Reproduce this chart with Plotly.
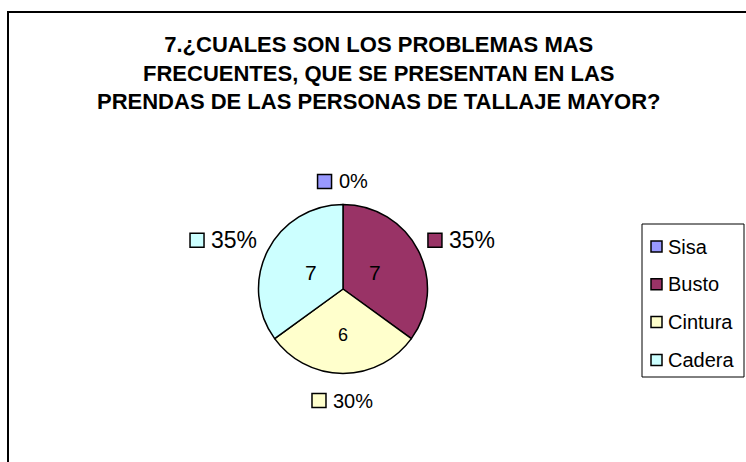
import math
import plotly.graph_objects as go

# --- Data ---
TITLE_LINES = [
    "7.¿CUALES SON LOS PROBLEMAS MAS",
    "FRECUENTES, QUE SE PRESENTAN EN LAS",
    "PRENDAS DE LAS PERSONAS DE TALLAJE MAYOR?",
]
categories = ["Sisa", "Busto", "Cintura", "Cadera"]
counts = [0, 7, 6, 7]

# --- Style ---
W, H = 746, 462
CX, CY, R = 343, 289, 84.5          # pie centre / radius in pixels
FONT = "Liberation Sans, Arial, sans-serif"
SLICE_COLORS = ["#9999FF", "#993366", "#FFFFCC", "#CCFFFF"]
INNER_SIZES = [18, 21, 18, 21]
INNER_RADIUS = [0.5, 0.42, 0.55, 0.42]
OUTER_SIZES = [20, 23, 20, 23]
CHAR_W = {"%": 0.889}               # rough Arial widths, digits default 0.556
SQ = 14
GAP_OUT = 15


def px(x):
    return x / W


def py(y):
    return 1 - y / H


def text_width(s, size):
    return sum(CHAR_W.get(ch, 0.556) for ch in s) * size


fig = go.Figure()

fig.add_trace(go.Pie(
    labels=categories, values=counts,
    sort=False, direction="clockwise", rotation=0,
    marker=dict(colors=SLICE_COLORS, line=dict(color="black", width=1.5)),
    textinfo="none", hoverinfo="label+value+percent", showlegend=False,
    domain=dict(x=[px(CX - R), px(CX + R)], y=[py(CY + R), py(CY - R)]),
))

shapes, annotations = [], []
total = sum(counts)
cum = 0
for i, (cat, c) in enumerate(zip(categories, counts)):
    mid = (cum + c / 2) / total * 2 * math.pi
    cum += c
    ux, uy = math.sin(mid), -math.cos(mid)

    # value inside the slice
    if c > 0:
        rr = INNER_RADIUS[i] * R
        annotations.append(dict(
            x=px(CX + rr * ux), y=py(CY + rr * uy), xref="paper", yref="paper",
            text=str(c), showarrow=False, xanchor="center", yanchor="middle",
            font=dict(family=FONT, size=INNER_SIZES[i], color="black")))

    # percentage label outside, with colour key
    label = f"{round(100 * c / total)}%"
    w = SQ + 8 + text_width(label, OUTER_SIZES[i])
    h = 16
    gx = CX + (R + GAP_OUT) * ux + w / 2 * ux
    gy = CY + (R + GAP_OUT) * uy + h / 2 * uy
    if uy > 0.9:
        gy += 4
    x0 = gx - w / 2
    shapes.append(dict(type="rect", xref="paper", yref="paper",
                       x0=px(x0), x1=px(x0 + SQ), y0=py(gy + SQ / 2), y1=py(gy - SQ / 2),
                       fillcolor=SLICE_COLORS[i], line=dict(color="black", width=1.5)))
    annotations.append(dict(
        x=px(x0 + SQ + 5), y=py(gy), xref="paper", yref="paper",
        text=label, showarrow=False, xanchor="left", yanchor="middle",
        font=dict(family=FONT, size=OUTER_SIZES[i], color="black")))

# legend box (drawn by hand to get Excel's spacing)
LEG_X0, LEG_X1, LEG_Y0, LEG_Y1 = 642, 744, 224, 377
shapes.append(dict(type="rect", xref="paper", yref="paper",
                   x0=px(LEG_X0), x1=px(LEG_X1), y0=py(LEG_Y1), y1=py(LEG_Y0),
                   line=dict(color="black", width=1), fillcolor="rgba(0,0,0,0)"))
for i, cat in enumerate(categories):
    yc = 246.5 + i * 37.8
    shapes.append(dict(type="rect", xref="paper", yref="paper",
                       x0=px(651), x1=px(662), y0=py(yc + 5.5), y1=py(yc - 5.5),
                       fillcolor=SLICE_COLORS[i], line=dict(color="black", width=1.5)))
    annotations.append(dict(
        x=px(666), y=py(yc), xref="paper", yref="paper",
        text=cat, showarrow=False, xanchor="left", yanchor="middle",
        font=dict(family=FONT, size=20, color="black")))

# title as an annotation so its position is predictable
annotations.append(dict(
    x=px(379.5), y=py(30), xref="paper", yref="paper",
    text="<b>" + "<br>".join(TITLE_LINES) + "</b>", showarrow=False,
    xanchor="center", yanchor="top", align="center",
    font=dict(family=FONT, size=22, color="black")))

# chart-area frame (right and bottom edges fall outside the window)
shapes.append(dict(type="rect", xref="paper", yref="paper",
                   x0=px(8), x1=px(770), y0=py(490), y1=py(12),
                   line=dict(color="black", width=2), fillcolor="rgba(0,0,0,0)", layer="below"))

fig.update_layout(
    width=W, height=H,
    paper_bgcolor="white", plot_bgcolor="white",
    margin=dict(l=0, r=0, t=0, b=0),
    shapes=shapes, annotations=annotations,
    showlegend=False,
)

fig.write_html("out.html", config={"displayModeBar": False},
               post_script="document.body.style.margin='0';")
